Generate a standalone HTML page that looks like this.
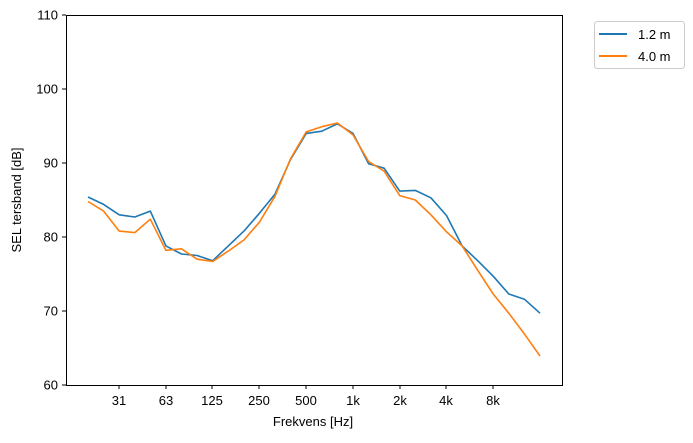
<!DOCTYPE html>
<html><head><meta charset="utf-8"><style>
body{margin:0;background:#fff;}
svg text{font-family:"Liberation Sans","DejaVu Sans",sans-serif;font-size:13px;fill:#000;}
</style></head><body>
<svg id="s" width="693" height="438" xmlns="http://www.w3.org/2000/svg">
<rect x="0" y="0" width="693" height="438" fill="#fff"/>
<g id="g"></g>
<rect x="66.5" y="15.5" width="496" height="370" fill="none" stroke="#000" stroke-width="1"/>
<text x="313" y="426" text-anchor="middle">Frekvens [Hz]</text>
<text transform="translate(21,200) rotate(-90)" text-anchor="middle">SEL tersband [dB]</text>
<rect x="594.5" y="21.5" width="90" height="47" rx="3" fill="#fff" stroke="#ccc"/>
<line x1="599" y1="34" x2="627" y2="34" stroke="#1f77b4" stroke-width="2"/>
<text x="638" y="39">1.2 m</text>
<line x1="599" y1="56" x2="627" y2="56" stroke="#ff7f0e" stroke-width="2"/>
<text x="638" y="61">4.0 m</text>
</svg>
<script>
var g=document.getElementById('g'),ns='http://www.w3.org/2000/svg',h='';
function Y(v){return 385-(v-60)*7.4;}
for(var v=60;v<=110;v+=10){var y=Y(v);h+='<line x1="62" x2="66" y1="'+y+'" y2="'+y+'" stroke="#000"/><text x="58" y="'+(y+4.5)+'" text-anchor="end">'+v+'</text>';}
var ticks=[['31',119],['63',166],['125',212],['250',259],['500',306],['1k',353],['2k',400],['4k',446],['8k',493]];
ticks.forEach(function(t){h+='<line x1="'+t[1]+'" x2="'+t[1]+'" y1="385" y2="389" stroke="#000"/><text x="'+t[1]+'" y="405" text-anchor="middle">'+t[0]+'</text>';});
var b=[85.4,84.4,83.0,82.7,83.5,78.8,77.7,77.5,76.8,78.8,80.8,83.2,85.8,90.5,94.0,94.3,95.3,94.0,89.9,89.3,86.2,86.3,85.3,82.9,78.8,76.8,74.7,72.3,71.6,69.7];
var o=[84.8,83.5,80.8,80.6,82.4,78.2,78.4,77.0,76.7,78.1,79.6,82.0,85.5,90.6,94.2,94.9,95.4,93.8,90.2,88.9,85.6,85.0,83.0,80.7,78.8,75.5,72.3,69.7,66.9,63.9];
function pl(d,c){var p=d.map(function(v,i){return (88+i*(540-88)/29).toFixed(1)+','+Y(v).toFixed(1);}).join(' ');return '<polyline points="'+p+'" fill="none" stroke="'+c+'" stroke-width="1.6" stroke-linejoin="round"/>';}
h+=pl(b,'#1f77b4')+pl(o,'#ff7f0e');
g.innerHTML=h;
</script>
</body></html>
